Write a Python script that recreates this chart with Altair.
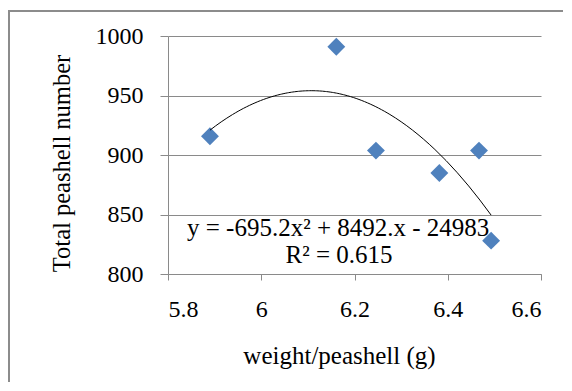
import altair as alt
import pandas as pd

weight = [5.89, 6.161, 6.246, 6.382, 6.467, 6.493]
total = [915.7, 991.0, 903.7, 884.9, 903.7, 828.0]
x_ticks = [5.8, 6.0, 6.2, 6.4, 6.6]
y_ticks = [800, 850, 900, 950, 1000]
eq_line1 = "y = -695.2x\u00b2 + 8492.x - 24983"
eq_line2 = "R\u00b2 = 0.615"

df = pd.DataFrame({"weight": weight, "total": total})

FONT = "Liberation Serif"
GRID = "#8a8a8a"

xscale = alt.Scale(domain=[5.8, 6.6], nice=False, zero=False)
yscale = alt.Scale(domain=[800, 1000], nice=False, zero=False)

xaxis = alt.Axis(values=x_ticks, format="~g", grid=False, domainColor=GRID,
                 tickColor=GRID, tickSize=6, labelFont=FONT, labelFontSize=24,
                 labelColor="black", labelBaseline="alphabetic", labelPadding=36,
                 title="weight/peashell (g)", titleFont=FONT, titleFontSize=25,
                 titleFontWeight="normal", titleColor="black", titleX=171, titleY=89,
                 titleBaseline="alphabetic", titleAnchor="start", titleAlign="center")
yaxis = alt.Axis(values=y_ticks, format="d", grid=True, gridColor=GRID, domainColor=GRID,
                 tickColor=GRID, tickSize=8, labelFont=FONT, labelFontSize=24,
                 labelColor="black", labelPadding=17,
                 title="Total peashell number", titleFont=FONT, titleFontSize=24.5,
                 titleFontWeight="normal", titleColor="black", titleX=-99, titleY=127,
                 titleAngle=270, titleBaseline="alphabetic", titleAlign="center",
                 titleAnchor="start")

base = alt.Chart(df)

frame = base.mark_rect(filled=False, stroke="#8c8c8c", strokeWidth=2).encode(
    x=alt.value(-159), x2=alt.value(420), y=alt.value(-25), y2=alt.value(370)
)

points = base.mark_point(shape="diamond", filled=True, size=320, color="#4F81BD",
                         opacity=1).encode(
    x=alt.X("weight:Q", scale=xscale, axis=xaxis),
    y=alt.Y("total:Q", scale=yscale, axis=yaxis),
)

trend = base.transform_regression("weight", "total", method="poly", order=2).mark_line(
    color="black", strokeWidth=1).encode(
    x=alt.X("weight:Q", scale=xscale),
    y=alt.Y("total:Q", scale=yscale),
)

t1 = alt.Chart(pd.DataFrame({"t": [eq_line1]})).mark_text(
    font=FONT, fontSize=25, color="black", baseline="alphabetic", align="center").encode(
    x=alt.datum(6.165), y=alt.datum(831.8), text="t:N")
t2 = alt.Chart(pd.DataFrame({"t": [eq_line2]})).mark_text(
    font=FONT, fontSize=25, color="black", baseline="alphabetic", align="center").encode(
    x=alt.datum(6.167), y=alt.datum(809.0), text="t:N")

chart = alt.layer(frame, points, trend, t1, t2).properties(
    width=373, height=238,
    autosize=alt.AutoSizeParams(type="none"),
    padding={"left": 160, "top": 28, "right": 22, "bottom": 108},
).configure_view(stroke=None)

chart.save("out.html", embed_options={"renderer": "svg", "actions": False})
